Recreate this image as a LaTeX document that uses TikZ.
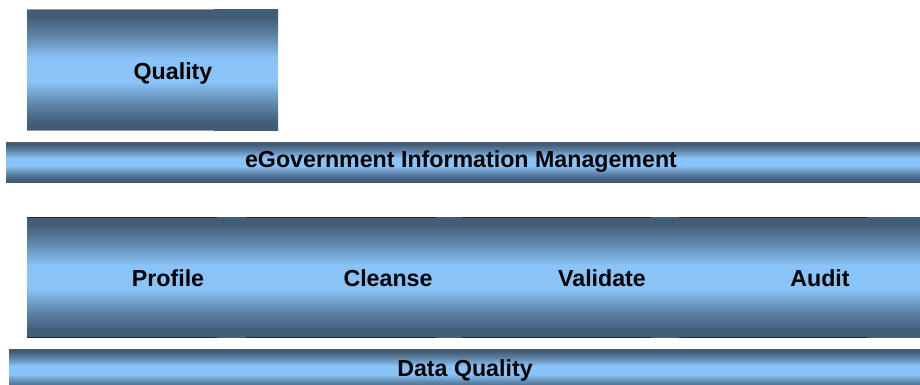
\documentclass[tikz,border=0pt]{standalone}
\usepackage{fontspec}
\setmainfont{Liberation Sans}
\usetikzlibrary{positioning}

\definecolor{tubedark}{RGB}{67,93,119}
\definecolor{tubemid}{RGB}{92,128,164}
\definecolor{tubelight}{RGB}{137,195,247}
% dark top and bottom, light middle
\pgfdeclareverticalshading{tube}{100bp}{color(0bp)=(tubedark); color(28bp)=(tubedark);
  color(35bp)=(tubemid); color(45bp)=(tubelight); color(55bp)=(tubelight);
  color(65bp)=(tubemid); color(72bp)=(tubedark); color(100bp)=(tubedark)}

\begin{document}
\begin{tikzpicture}[x=0.5pt,y=-0.5pt,
      every node/.style={font=\bfseries\fontsize{11.6}{13}\selectfont, inner sep=0pt},
      tube/.style={shading=tube, draw=none},
      edge line/.style={line width=0.5pt, black!85}]
      \useasboundingbox (0,0) rectangle (920,385);

      % top box
      \shade[tube] (27,10) rectangle (278,130);
      \draw[edge line, black!40] (27,10) -- (214,10) (27,130) -- (214,130);
      \node (quality) at (173,74) {Quality};

      % management bar
      \shade[tube] (6,142) rectangle (920,182);
      \node (mgmt) at (461,162) {eGovernment Information Management};

      % process band
      \shade[tube] (27,217) rectangle (920,337);
      \foreach \name/\xa/\xb/\xt/\txt in {profile/27/217/168/Profile,
          cleanse/246/436/388/Cleanse, validate/462/651/602/Validate,
          audit/679/867/820/Audit} {
        \draw[edge line] (\xa,217) -- (\xb,217) (\xa,337) -- (\xb,337);
        \node (\name) at (\xt,278) {\txt};
      }

      % base bar
      \shade[tube] (9,349) rectangle (920,391);
      \node (dq) at (465,370) {Data Quality};
\end{tikzpicture}
\end{document}
